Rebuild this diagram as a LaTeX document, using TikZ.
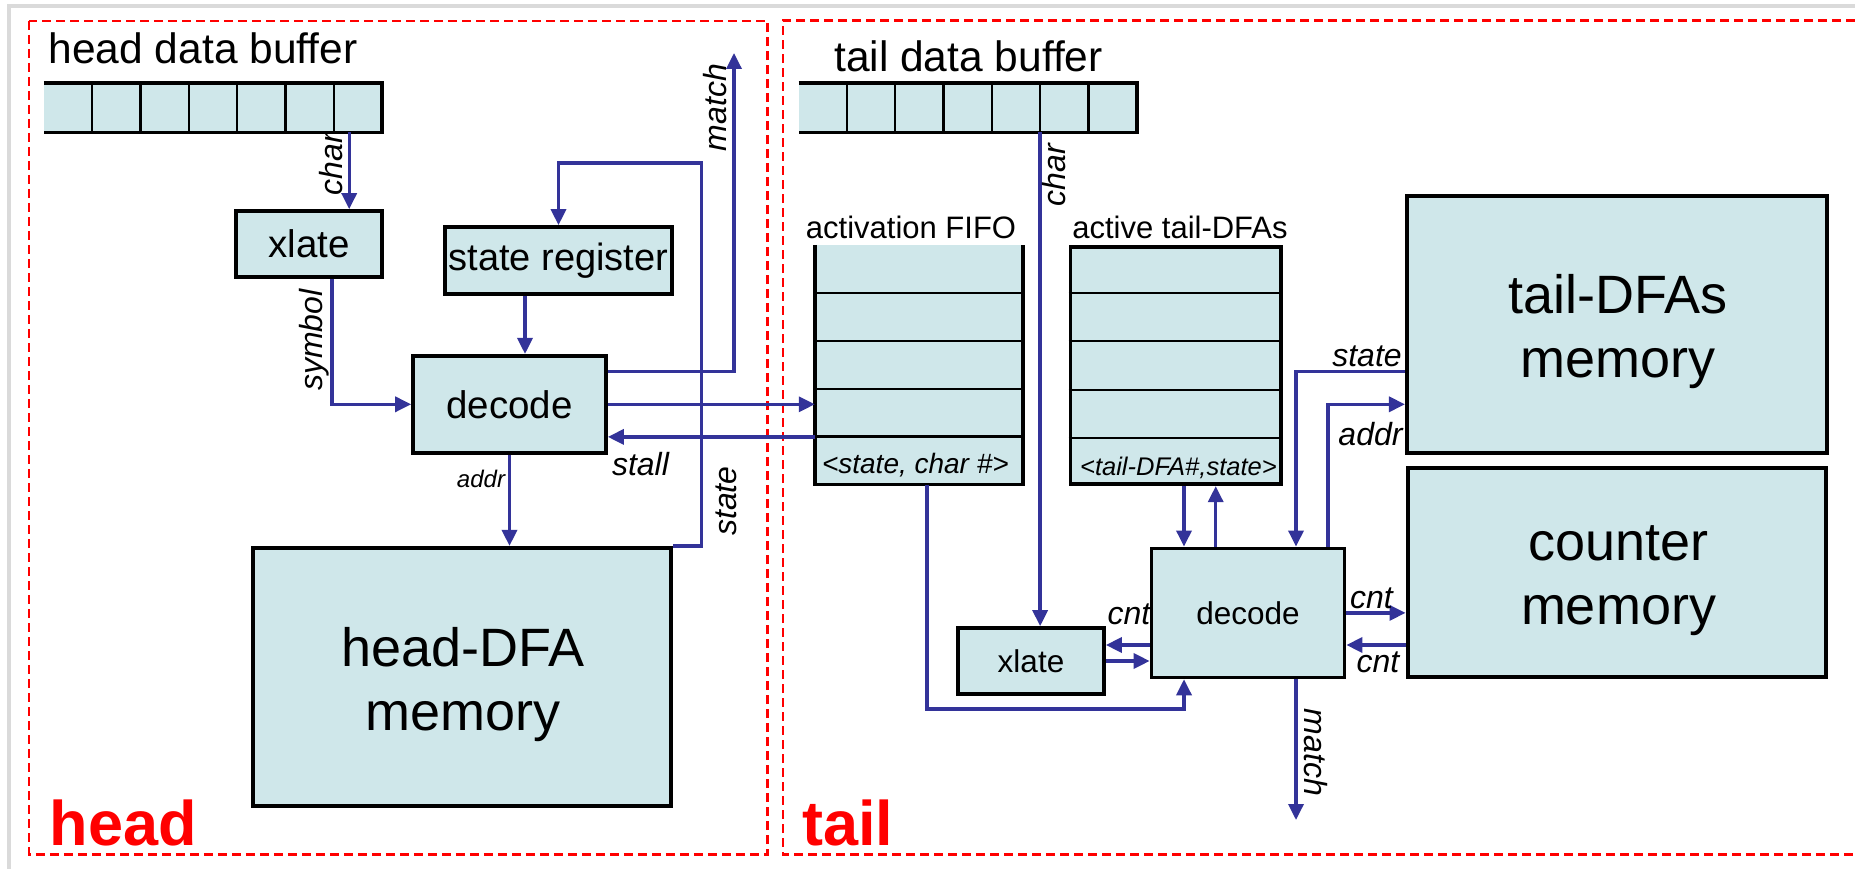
\documentclass[tikz,border=0pt]{standalone}
\usepackage{fontspec}
\setmainfont{Liberation Sans}
\usetikzlibrary{arrows.meta,calc}

\definecolor{boxfill}{RGB}{207,231,234}
\definecolor{wireblue}{RGB}{51,51,153}
\definecolor{framegray}{RGB}{218,218,218}
\definecolor{zonered}{RGB}{255,0,0}
\newcommand{\pxfont}[1]{\fontsize{#1}{#1}\selectfont}

\begin{document}
\begin{tikzpicture}[x=1pt,y=-1pt,
  blk/.style={draw=black, fill=boxfill, line width=3.7pt, inner sep=0pt},
  membox/.style={blk, line width=4.2pt},
  bufstrip/.style={fill=boxfill, inner sep=0pt},
  rimline/.style={draw=black, line width=3.7pt},
  divider/.style={draw=black, line width=2.2pt},
  wire/.style={draw=wireblue, line width=3.4pt},
  arr/.style={wire, -{Triangle[length=16pt,width=15pt]}},
  lbl/.style={inner sep=0pt, font=\pxfont{32}\itshape},
  ttl/.style={inner sep=0pt, font=\pxfont{42.5}},
  subttl/.style={inner sep=0pt, font=\pxfont{31}},
  rowtxt/.style={inner sep=0pt, font=\pxfont{28}\itshape},
  memtxt/.style={inner sep=0pt, align=center, font=\fontsize{54}{64}\selectfont},
  zone/.style={draw=zonered, line width=2.2pt, dash pattern=on 9pt off 5pt},
  zonelbl/.style={inner sep=0pt, text=zonered, font=\pxfont{63}\bfseries}
]
\useasboundingbox (0,0) rectangle (1855,869);
\fill[white] (0,0) rectangle (1855,869);

% outer frame
\draw[framegray, line width=4pt] (9,869) -- (9,6) -- (1855,6);

% the two zones
\draw[zone] (29.3,21) rectangle (767.5,854.5);
\draw[zone] (1855,20.5) -- (782.7,20.5) -- (782.7,854.5) -- (1855,854.5);

% ---------------- head side ----------------
\node[ttl, anchor=base west] (hbt) at (48.5,64) {head data buffer};
\node[bufstrip, minimum width=338pt, minimum height=49pt] (hbuf) at (213,107.7) {};
\draw[rimline] (hbuf.north west) -- (hbuf.north east) -- (hbuf.south east) -- (hbuf.south west);
\foreach \k in {1,...,6}
  \draw[divider] ($(hbuf.north west)!\k/7!(hbuf.north east)$) -- ($(hbuf.south west)!\k/7!(hbuf.south east)$);

\node[blk, minimum width=146pt, minimum height=66pt, font=\pxfont{38.5}] (hx) at (309,244) {xlate};
\node[blk, minimum width=227pt, minimum height=67pt, font=\pxfont{38}] (sreg) at (558.5,260.5) {state register};
\node[blk, minimum width=193pt, minimum height=97pt, font=\pxfont{38.5}] (hdec) at (509.5,404.3) {decode};
\node[membox, minimum width=418pt, minimum height=258pt] (hmem) at (462,677) {};
\node[memtxt] (hmemt) at (463,684.2) {head-DFA\\memory};

\node[zonelbl, anchor=base west] (hlab) at (49.5,845) {head};

% ---------------- tail side ----------------
\node[ttl, anchor=base west] (tbt) at (834,72) {tail data buffer};
\node[bufstrip, minimum width=337.9pt, minimum height=49pt] (tbuf) at (967.65,107.7) {};
\draw[rimline] (tbuf.north west) -- (tbuf.north east) -- (tbuf.south east) -- (tbuf.south west);
\foreach \k in {1,...,6}
  \draw[divider] ($(tbuf.north west)!\k/7!(tbuf.north east)$) -- ($(tbuf.south west)!\k/7!(tbuf.south east)$);

% activation FIFO (open at the top)
\node[subttl, anchor=base] (fifoh) at (911,238) {activation FIFO};
\node[bufstrip, minimum width=207.6pt, minimum height=239.3pt] (fifo) at (918.8,364.65) {};
\draw[rimline] (fifo.north west) -- (fifo.south west) -- (fifo.south east) -- (fifo.north east);
\foreach \k in {1,...,4}
  \draw[divider] ($(fifo.north west)!\k/5!(fifo.south west)$) -- ($(fifo.north east)!\k/5!(fifo.south east)$);
\node[rowtxt, anchor=base] (fifoe) at (915.4,473) {<state, char \#>};

% active tail-DFAs table
\node[subttl, anchor=base] (atdh) at (1180,238) {active tail-DFAs};
\node[blk, minimum width=210.6pt, minimum height=237.6pt] (atd) at (1175.7,365.5) {};
\foreach \k in {1,...,4}
  \draw[divider] ($(atd.north west)!\k/5!(atd.south west)$) -- ($(atd.north east)!\k/5!(atd.south east)$);
\node[rowtxt, font=\pxfont{25.5}\itshape, anchor=base] (atde) at (1178.4,475) {<tail-DFA\#,state>};

\node[blk, minimum width=146pt, minimum height=66pt, font=\pxfont{31.5}] (tx) at (1031,661) {xlate};
\node[blk, minimum width=193pt, minimum height=129pt, font=\pxfont{31.5}] (tdec) at (1248,612.9) {decode};
\node[membox, minimum width=419.7pt, minimum height=257pt] (tmem) at (1616.9,324.2) {};
\node[memtxt] (tmemt) at (1618,331.5) {tail-DFAs\\memory};
\node[membox, minimum width=418.7pt, minimum height=209pt] (cmem) at (1617,572.8) {};
\node[memtxt] (cmemt) at (1618.5,581) {counter\\memory};

\node[zonelbl, anchor=base west] (tlab) at (802,845) {tail};

% ---------------- head wiring ----------------
\draw[arr] ([xshift=-33pt]hbuf.south east) coordinate (hc) -- (hc |- hx.north);
\node[lbl, rotate=90] (hchar) at (331,164) {char};

\draw[arr] ([xshift=23pt]hx.south) |- (hdec.west);
\node[lbl, rotate=90] (hsym) at (314.5,340) {symbol};

\draw[arr] ([xshift=-33.5pt]sreg.south) coordinate (sr) -- (sr |- hdec.north);

\coordinate (hloop) at (701.5,163);
\draw[arr] (hmem.north east) -| (hloop) -| (sreg.north);
\node[lbl, rotate=90] (hstate) at (726,501) {state};

\draw[arr] (hdec.south) -- (hdec.south |- hmem.north);
\node[lbl, font=\pxfont{24}\itshape] (haddr) at (481,478.5) {addr};

\coordinate (hmatch) at (734,53);
\draw[arr] ($(hdec.east)+(0,-32.6)$) -| (hmatch);
\node[lbl, rotate=90] (hmat) at (715.5,107.5) {match};

\draw[arr] (hdec.east) -- (hdec.east -| fifo.west);
\draw[arr] ($(fifo.south west)+(0,-47.6)$) coordinate (st) -- (st -| hdec.east);
\node[lbl] (hstall) at (640.5,464) {stall};

% ---------------- tail wiring ----------------
\draw[arr] ($(tbuf.south west)!5/7!(tbuf.south east)$) coordinate (tc) -- (tc |- tx.north);
\node[lbl, rotate=90] (tchar) at (1054,175) {char};

\coordinate (loopc) at (1184,709);
\draw[arr] ($(fifo.south)+(8,0)$) |- (loopc) -- (loopc |- tdec.south);
\draw[arr] (atd.south -| loopc) -- (loopc |- tdec.north);
\draw[arr] ($(tdec.north)+(-32.3,0)$) coordinate (up) -- (up |- atd.south);

\draw[arr] ($(tdec.west)+(0,32.1)$) coordinate (cl) -- (cl -| tx.east);
\draw[arr] (tx.east) -- (tx.east -| tdec.west);
\node[lbl] (tcnt1) at (1129,614) {cnt};

\draw[arr] (tdec.east) -- (tdec.east -| cmem.west);
\draw[arr] ($(tdec.east -| cmem.west)+(0,32.1)$) coordinate (cr) -- (cr -| tdec.east);
\node[lbl] (tcnt2) at (1371.5,598) {cnt};
\node[lbl] (tcnt3) at (1378,662.5) {cnt};

\coordinate (tmatch) at (1296,820);
\draw[arr] (tmatch |- tdec.south) -- (tmatch);
\node[lbl, rotate=-90] (tmat) at (1316,752.5) {match};

\draw[arr] ($(tmem.west)+(0,47.5)$) -| (tmatch |- tdec.north);
\node[lbl] (tstate) at (1367,356.7) {state};

\draw[arr] ($(tdec.north)+(80,0)$) |- ($(tmem.west)+(0,80.1)$);
\node[lbl] (taddr) at (1370.5,434) {addr};
\end{tikzpicture}
\end{document}
